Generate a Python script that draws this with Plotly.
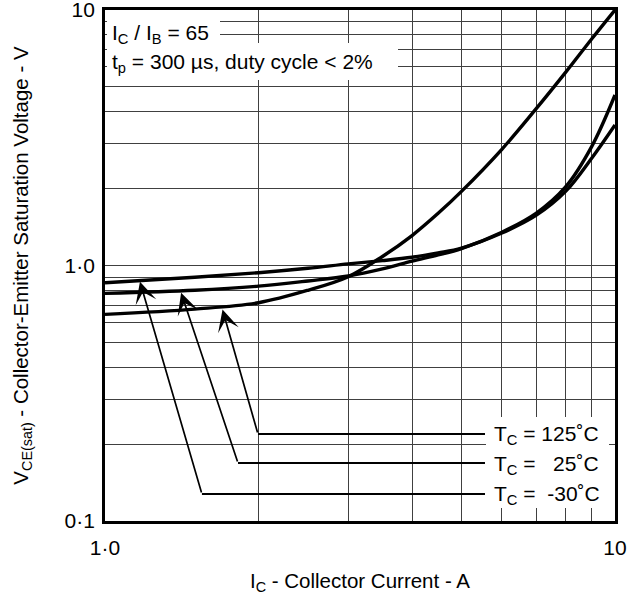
import math
import plotly.graph_objects as go

# ---- data ----
ic = [1.0, 1.5, 2.0, 2.5, 3.0, 3.5, 4.0, 4.5, 5.0, 6.0, 7.0, 8.0, 9.0, 10.0]
vce_125 = [0.644, 0.675, 0.715, 0.800, 0.904, 1.085, 1.31, 1.60, 1.95, 2.85, 4.10, 5.70, 7.70, 10.0]
vce_25 = [0.778, 0.800, 0.830, 0.870, 0.910, 0.970, 1.040, 1.100, 1.165, 1.35, 1.60, 2.03, 2.92, 4.65]
vce_m30 = [0.856, 0.900, 0.937, 0.975, 1.015, 1.045, 1.077, 1.120, 1.170, 1.34, 1.57, 1.95, 2.63, 3.55]

series_labels = ["T<sub>C</sub> = 125˚C", "T<sub>C</sub> = \u00a0\u00a025˚C", "T<sub>C</sub> = \u00a0-30˚C"]
tip_x = [1.70, 1.41, 1.171]
tip_y = [0.672, 0.782, 0.864]
knee_x = [1.995, 1.823, 1.549]
level_y = [0.219, 0.1687, 0.1276]
leader_end_x = 5.56

x_tickvals = [1, 10]
x_ticktext = ["1\u00b70", "10"]
y_tickvals = [0.1, 1, 10]
y_ticktext = ["0\u00b71", "1\u00b70", "10"]
x_minor = [2, 3, 4, 5, 6, 7, 8, 9]
y_minor = [0.2, 0.3, 0.4, 0.5, 0.6, 0.7, 0.8, 0.9, 2, 3, 4, 5, 6, 7, 8, 9]

FONT = "Liberation Sans, Arial, Helvetica, sans-serif"
GRID = "#404040"
FS = 21

fig = go.Figure()
for ys in [vce_125, vce_25, vce_m30]:
    fig.add_trace(go.Scatter(x=ic, y=ys, mode="lines",
                             line=dict(color="black", width=3.4, shape="spline", smoothing=1.0),
                             showlegend=False, hoverinfo="skip"))

# leader lines (horizontal part)
for kx, ly in zip(knee_x, level_y):
    fig.add_trace(go.Scatter(x=[leader_end_x, kx], y=[ly, ly], mode="lines",
                             line=dict(color="black", width=2), showlegend=False, hoverinfo="skip"))

annotations = []
for tx, ty, kx, ly in zip(tip_x, tip_y, knee_x, level_y):
    annotations.append(dict(x=math.log10(tx), y=math.log10(ty), xref="x", yref="y",
                            ax=math.log10(kx), ay=math.log10(ly), axref="x", ayref="y",
                            text="", showarrow=True, arrowhead=3, arrowsize=2.1,
                            arrowwidth=1.7, arrowcolor="black", standoff=0))

# pixel helpers for paper coordinates of text boxes
L, R, T, B = 105, 615, 10, 521
def px(x):
    return (x - L) / (R - L)
def py(y):
    return (B - y) / (B - T)

shapes = []
for x0, x1, y0, y1 in [(107, 220, 13, 43), (107, 398, 43, 80), (486, 609, 417, 508)]:
    shapes.append(dict(type="rect", xref="paper", yref="paper", x0=px(x0), x1=px(x1),
                       y0=py(y1), y1=py(y0), fillcolor="white", line=dict(width=0), layer="above"))

annotations.append(dict(x=px(110), y=py(34), xref="paper", yref="paper", xanchor="left", yanchor="middle",
                        text="I<sub>C</sub> / I<sub>B</sub> = 65", showarrow=False,
                        font=dict(family=FONT, size=FS, color="black")))
annotations.append(dict(x=px(110), y=py(63), xref="paper", yref="paper", xanchor="left", yanchor="middle",
                        text="t<sub>p</sub> = 300 µs, duty cycle &lt; 2%", showarrow=False,
                        font=dict(family=FONT, size=FS, color="black")))
for lab, yy in zip(series_labels, [435, 465, 495]):
    annotations.append(dict(x=px(492), y=py(yy), xref="paper", yref="paper", xanchor="left", yanchor="middle",
                            text=lab, showarrow=False, font=dict(family=FONT, size=FS, color="black")))

axis_common = dict(type="log", showgrid=True, gridcolor=GRID, gridwidth=1, zeroline=False,
                   showline=True, mirror=True, linecolor="black", linewidth=2.8, ticks="",
                   automargin=False, ticklabeloverflow="allow",
                   tickfont=dict(family=FONT, size=FS, color="black"))

fig.update_layout(
    width=638, height=600,
    margin=dict(l=L, r=638 - R, t=T, b=600 - B),
    paper_bgcolor="white", plot_bgcolor="white",
    font=dict(family=FONT, size=FS, color="black"),
    xaxis=dict(range=[0, 1], tickvals=x_tickvals, ticktext=x_ticktext,
               minor=dict(tickvals=x_minor, showgrid=True, gridcolor=GRID, gridwidth=1, ticks=""),
               title=dict(text="I<sub>C</sub> - Collector Current - A", standoff=16,
                          font=dict(family=FONT, size=20.5)),
               ticklabelstandoff=6, **axis_common),
    yaxis=dict(range=[-1, 1], tickvals=y_tickvals, ticktext=y_ticktext,
               minor=dict(tickvals=y_minor, showgrid=True, gridcolor=GRID, gridwidth=1, ticks=""),
               title=dict(text="V<sub>CE(sat)</sub> - Collector-Emitter Saturation Voltage - V", standoff=31,
                          font=dict(family=FONT, size=20.5)),
               ticklabelstandoff=3, **axis_common),
    shapes=shapes,
    annotations=annotations,
)

fig.write_html("out.html", config={"displayModeBar": False},
               post_script="document.body.style.margin='0';document.body.style.overflow='hidden';")
